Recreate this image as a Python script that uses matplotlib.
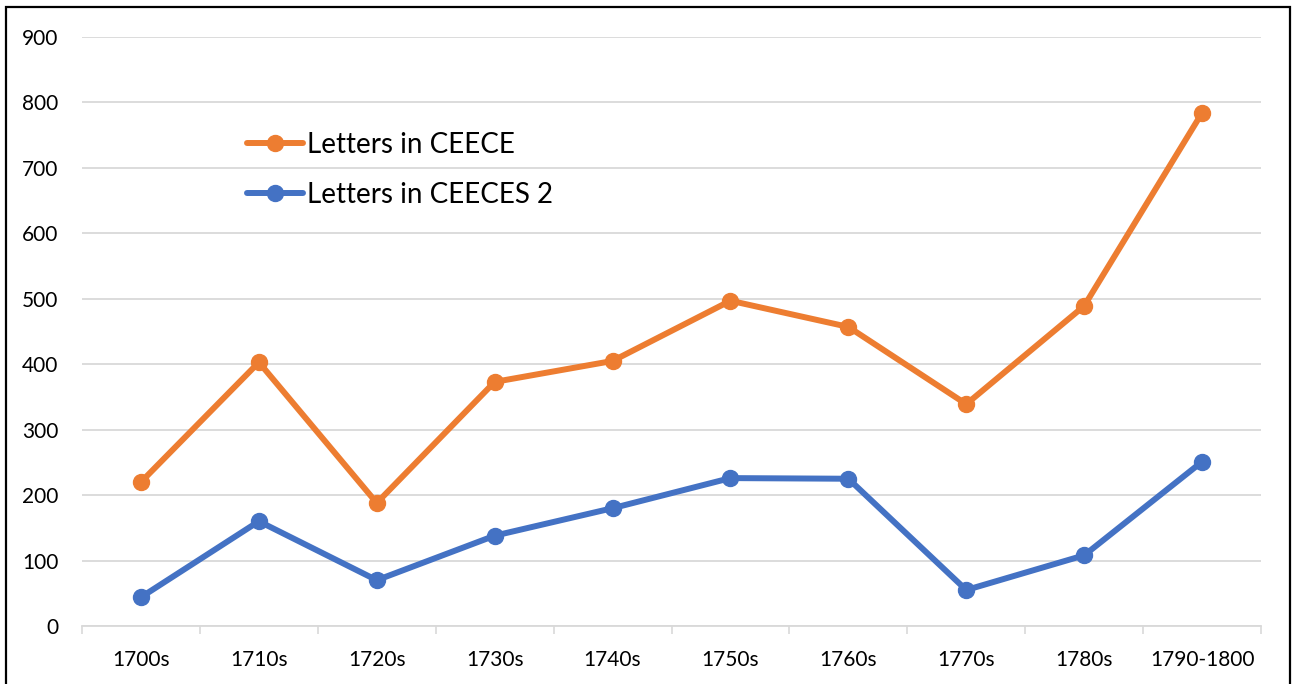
## Letters per decade in CEECE and CEECES 2
import matplotlib
matplotlib.use("Agg")
import matplotlib.pyplot as plt
import matplotlib.patches as patches
import numpy as np

## Data
decades = ["1700s", "1710s", "1720s", "1730s", "1740s",
           "1750s", "1760s", "1770s", "1780s", "1790-1800"]
ceece = [220, 403, 188, 373, 405, 497, 457, 339, 489, 784]
ceeces2 = [44, 160, 70, 138, 180, 226, 225, 55, 108, 251]
yticks = [0, 100, 200, 300, 400, 500, 600, 700, 800, 900]

plt.rcParams['font.family'] = ['Lato', 'DejaVu Sans']

## Figure and axes
fig = plt.figure(figsize=(12.94, 6.84), dpi=100)
ax = fig.add_axes([0.0634, 0.0848, 0.9111, 0.8611])

x = np.arange(len(decades))
ax.plot(x, ceece, color="#ED7D31", lw=4.3, marker="o", ms=11.5,
        solid_capstyle="round", label="Letters in CEECE")
ax.plot(x, ceeces2, color="#4472C4", lw=4.3, marker="o", ms=11.5,
        solid_capstyle="round", label="Letters in CEECES 2")

# Axis limits and ticks
ax.set_xlim(-0.5, len(decades) - 0.5)
ax.set_ylim(0, 900)
ax.set_yticks(yticks)
ax.set_xticks(x)
ax.set_xticklabels(decades)
ax.set_xticks(np.arange(-0.5, len(decades)), minor=True)
ax.tick_params(axis="x", which="major", length=0, pad=17, labelsize=15)
ax.tick_params(axis="x", which="minor", length=6, width=1.2, color="#D9D9D9")
ax.tick_params(axis="y", length=0, pad=17, labelsize=15)

# Gridlines and spines
ax.grid(axis="y", color="#D9D9D9", lw=1.3)
ax.set_axisbelow(True)
for side in ["top", "right", "left"]:
    ax.spines[side].set_visible(False)
ax.spines["bottom"].set_color("#D9D9D9")
ax.spines["bottom"].set_linewidth(1.3)

# Legend inside the plot, no frame
ax.legend(loc="upper left", bbox_to_anchor=(0.191, 0.807),
          bbox_transform=fig.transFigure, frameon=False, fontsize=20,
          handlelength=2.0, handletextpad=0.15, labelspacing=0.87,
          borderaxespad=0, borderpad=0)

# Black frame around the chart
frame = patches.Rectangle((6 / 1294, -0.05), 1284 / 1294, 1.05 - 7 / 684,
                          transform=fig.transFigure, fill=False,
                          edgecolor="black", lw=1.6)
fig.patches.append(frame)

fig.savefig("out.png", dpi=100)
